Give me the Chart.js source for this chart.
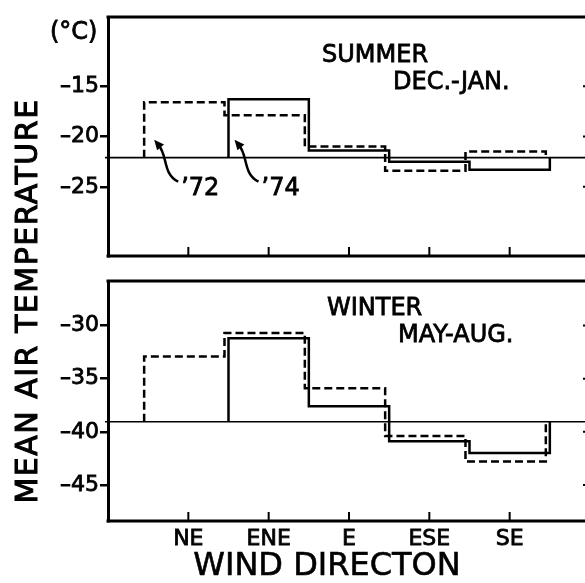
<!DOCTYPE html>
<html>
<head>
<meta charset="utf-8">
<script src="https://cdn.jsdelivr.net/npm/chart.js@4.4.1/dist/chart.umd.min.js"></script>
<style>
html, body { margin:0; padding:0; background:#fff; overflow:hidden; }
#wrap { position:relative; width:585px; height:583px; overflow:hidden; }
canvas { position:absolute; left:0; top:0; }
</style>
</head>
<body>
<div id="wrap">
  <canvas id="verano" width="600" height="583"></canvas>
  <canvas id="invierno" width="600" height="583"></canvas>
</div>
<script>
// datos
const categorias = ["NE", "ENE", "E", "ESE", "SE"];
const verano72 = [-16.6, -17.9, -21.0, -23.4, -21.5];
const verano74 = [null, -16.3, -21.4, -22.5, -23.3];
const invierno72 = [-32.9, -30.7, -35.9, -40.4, -42.8];
const invierno74 = [null, -31.2, -37.6, -40.9, -42.0];
const baseVerano = -22.1;
const baseInvierno = -39.05;
const ticksVerano = [-15, -20, -25];
const ticksInvierno = [-30, -35, -40, -45];
const anotaciones = ["\u201972", "\u201974"];
const anotCategoria = [0, 1];

const fuente = "'DejaVu Sans', sans-serif";
Chart.defaults.font.family = fuente;
Chart.defaults.color = "#000";

// convierte valores por categoria en una linea escalonada
function escalones(vals, base, corrimiento) {
  const pts = [];
  let primero = -1, ultimo = -1;
  vals.forEach((v, i) => { if (v !== null) { if (primero < 0) primero = i; ultimo = i; } });
  pts.push({x: primero - 0.5 + corrimiento, y: base});
  vals.forEach((v, i) => {
    if (v === null) return;
    pts.push({x: i - 0.5 + corrimiento, y: v});
    pts.push({x: i + 0.5 + corrimiento, y: v});
  });
  pts.push({x: ultimo + 0.5 + corrimiento, y: base});
  return pts;
}

// texto con un poco de grosor extra, como en la figura escaneada
function texto(ctx, t, x, y, grosor) {
  ctx.lineWidth = grosor;
  ctx.strokeText(t, x, y);
  ctx.fillText(t, x, y);
}

function marco(base, ticksY) {
  return {
    id: "marco",
    afterDatasetsDraw(chart) {
      const ctx = chart.ctx, a = chart.chartArea;
      const xs = chart.scales.x, ys = chart.scales.y;
      ctx.save();
      ctx.strokeStyle = "#000";
      ctx.lineWidth = 3;
      ctx.beginPath();
      ctx.moveTo(a.left - 1.5, a.top); ctx.lineTo(a.right, a.top);
      ctx.moveTo(a.left - 1.5, a.bottom); ctx.lineTo(a.right, a.bottom);
      ctx.moveTo(a.right, a.top); ctx.lineTo(a.right, a.bottom);
      ctx.stroke();
      ctx.lineWidth = 2;
      ctx.beginPath();
      categorias.forEach((c, i) => {
        const x = xs.getPixelForValue(i);
        ctx.moveTo(x, a.bottom); ctx.lineTo(x, a.bottom - 9);
      });
      ticksY.forEach(v => {
        const y = ys.getPixelForValue(v);
        ctx.moveTo(a.right, y); ctx.lineTo(a.right - 7, y);
      });
      ctx.stroke();
      ctx.lineWidth = 1.6;
      ctx.beginPath();
      const yb = ys.getPixelForValue(base);
      ctx.moveTo(a.left - 3, yb); ctx.lineTo(a.right, yb);
      ctx.stroke();
      ctx.restore();
    }
  };
}

function flecha(ctx, E, B) {
  ctx.lineWidth = 2.5;
  ctx.beginPath();
  ctx.moveTo(E + 30, B + 24);
  ctx.bezierCurveTo(E + 14, B + 16, E + 20, B - 2, E + 10, B - 13);
  ctx.stroke();
  const tx = E + 6, ty = B - 18;
  let dx = -1, dy = -1.2;
  const n = Math.hypot(dx, dy); dx /= n; dy /= n;
  const cx = tx - dx * 10, cy = ty - dy * 10;
  const px = -dy * 4.5, py = dx * 4.5;
  ctx.beginPath();
  ctx.moveTo(tx, ty);
  ctx.lineTo(cx + px, cy + py);
  ctx.lineTo(cx - px, cy - py);
  ctx.closePath();
  ctx.fill();
}

const textosVerano = {
  id: "textosVerano",
  afterDraw(chart) {
    const ctx = chart.ctx, a = chart.chartArea;
    const xs = chart.scales.x, ys = chart.scales.y;
    ctx.save();
    ctx.fillStyle = "#000";
    ctx.strokeStyle = "#000";
    ctx.textBaseline = "alphabetic";
    ctx.textAlign = "left";
    ctx.font = "24px " + fuente;
    texto(ctx, "(\u00b0C)", 50, a.top + 22, 0.8);
    texto(ctx, "SUMMER", a.left + 214, a.top + 45, 0.8);
    texto(ctx, "DEC.-JAN.", a.left + 285, a.top + 72, 0.8);
    const B = ys.getPixelForValue(baseVerano);
    anotaciones.forEach((t, k) => {
      const E = xs.getPixelForValue(anotCategoria[k] - 0.5);
      flecha(ctx, E, B);
      texto(ctx, t, E + 33, B + 37, 0.8);
    });
    ctx.restore();
  }
};

const textosInvierno = {
  id: "textosInvierno",
  afterDraw(chart) {
    const ctx = chart.ctx, a = chart.chartArea;
    ctx.save();
    ctx.fillStyle = "#000";
    ctx.strokeStyle = "#000";
    ctx.textBaseline = "alphabetic";
    ctx.textAlign = "left";
    ctx.font = "24px " + fuente;
    texto(ctx, "WINTER", a.left + 219, a.top + 34, 0.8);
    texto(ctx, "MAY-AUG.", a.left + 290, a.top + 61, 0.8);
    ctx.font = "32px " + fuente;
    ctx.textAlign = "center";
    texto(ctx, "WIND DIRECTON", 327, 575, 0.6);
    ctx.translate(37, 301);
    ctx.rotate(-Math.PI / 2);
    ctx.font = "30px " + fuente;
    ctx.letterSpacing = "1.5px";
    texto(ctx, "MEAN AIR TEMPERATURE", 0, 0, 1);
    ctx.restore();
  }
};

function crear(id, serie72, serie74, base, ticksY, ymin, ymax, padding, conEtiquetas, extra) {
  return new Chart(document.getElementById(id), {
    type: "scatter",
    data: {
      datasets: [
        {
          data: escalones(serie72, base, -0.05),
          showLine: true, borderColor: "#000", borderWidth: 2.5,
          borderDash: [8, 4], pointRadius: 0, tension: 0
        },
        {
          data: escalones(serie74, base, 0),
          showLine: true, borderColor: "#000", borderWidth: 2.5,
          pointRadius: 0, tension: 0
        }
      ]
    },
    options: {
      responsive: false,
      devicePixelRatio: 1,
      animation: false,
      layout: { padding: padding },
      plugins: { legend: { display: false }, tooltip: { enabled: false } },
      scales: {
        x: {
          type: "linear", min: -1, max: 5,
          display: conEtiquetas,
          afterBuildTicks: s => { s.ticks = categorias.map((c, i) => ({value: i})); },
          afterFit: s => { s.height = conEtiquetas ? 62 : 0; },
          grid: { display: false, drawTicks: false },
          border: { display: false },
          ticks: {
            font: { size: 22 }, padding: 5, maxRotation: 0, autoSkip: false,
            textStrokeColor: "#000", textStrokeWidth: 0.8,
            callback: v => categorias[v]
          }
        },
        y: {
          min: ymin, max: ymax,
          afterBuildTicks: s => { s.ticks = ticksY.map(v => ({value: v})); },
          afterFit: s => { s.width = 108; },
          grid: { display: true, drawOnChartArea: false, drawTicks: true, tickLength: 8, lineWidth: 2.5, color: "#000" },
          border: { display: true, width: 3, color: "#000" },
          ticks: {
            font: { size: 22 }, padding: 1,
            textStrokeColor: "#000", textStrokeWidth: 0.8,
            callback: v => String(v).replace("-", "\u2013")
          }
        }
      }
    },
    plugins: [marco(base, ticksY), extra]
  });
}

crear("verano", verano72, verano74, baseVerano, ticksVerano, -31.87, -8.13,
  { top: 17, left: 0, right: 10, bottom: 327 }, false, textosVerano);
crear("invierno", invierno72, invierno74, baseInvierno, ticksInvierno, -48.4, -25.8,
  { top: 281, left: 0, right: 10, bottom: 0 }, true, textosInvierno);
</script>
</body>
</html>
